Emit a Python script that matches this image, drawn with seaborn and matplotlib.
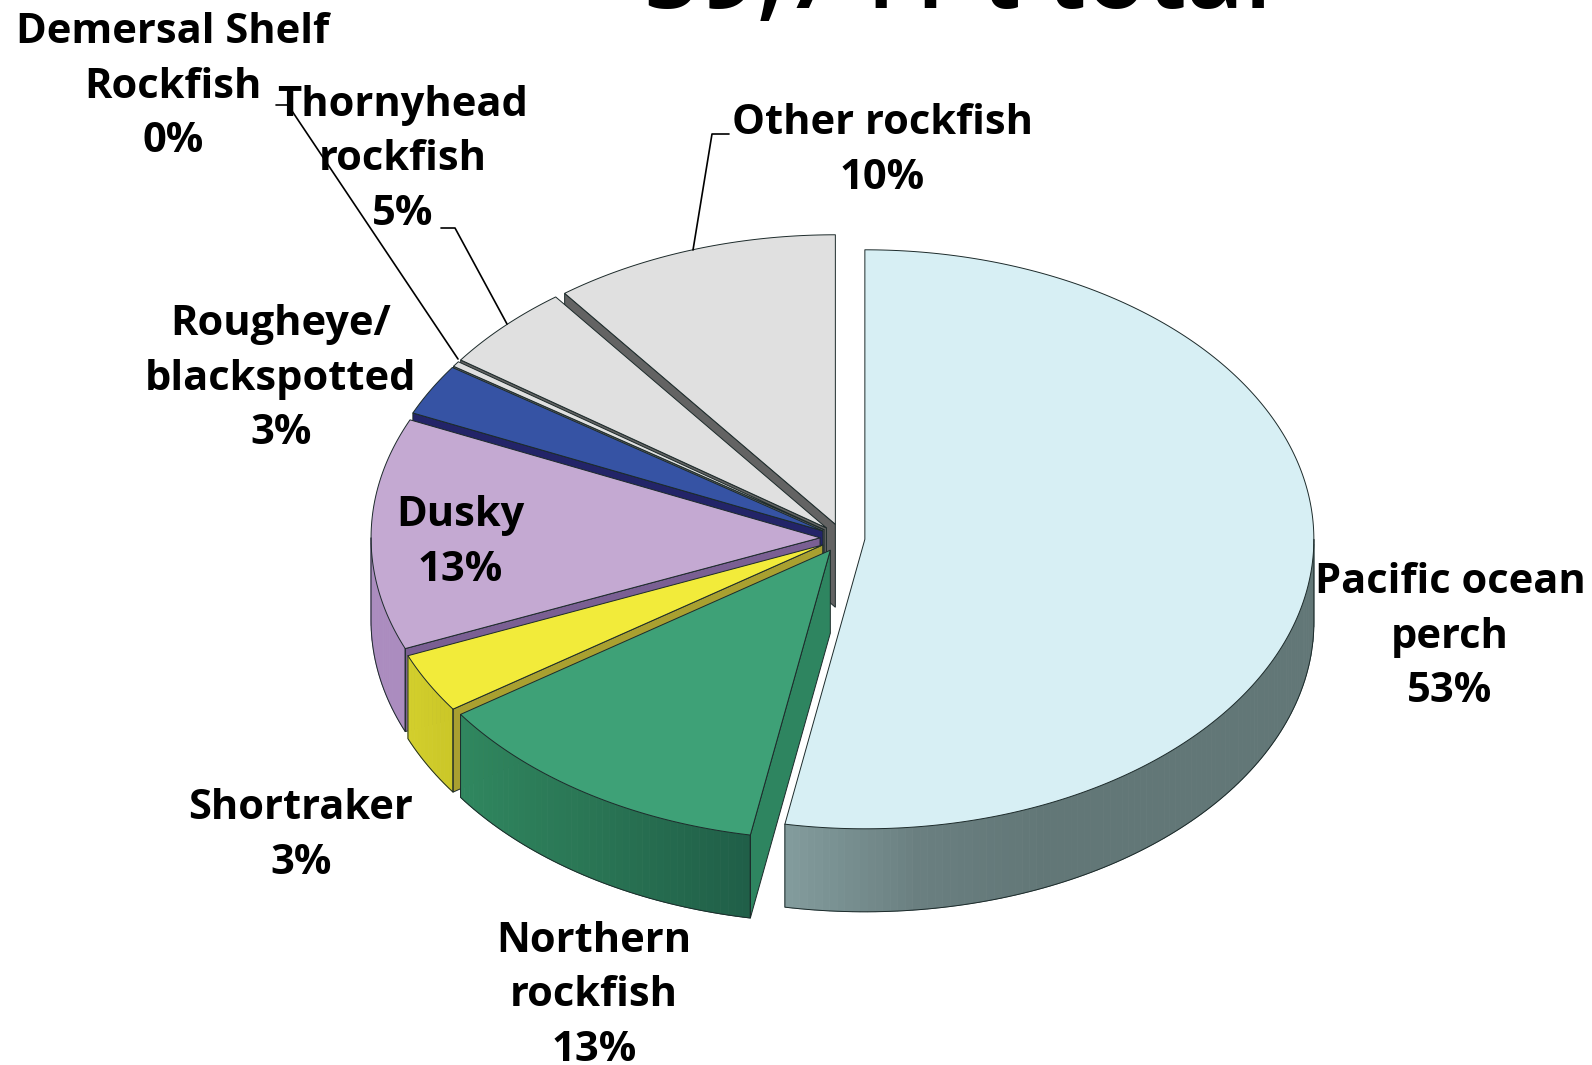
import numpy as np
import matplotlib
matplotlib.use("Agg")
import matplotlib.pyplot as plt
import seaborn as sns

# -----------------------------
# 1. Data (clockwise from 12 o'clock)
# -----------------------------
species = ["Pacific ocean\nperch", "Northern\nrockfish", "Shortraker", "Dusky",
           "Rougheye/\nblackspotted", "Demersal Shelf\nRockfish",
           "Thornyhead\nrockfish", "Other rockfish"]
shares = [52.85, 12.55, 3.35, 12.93, 2.87, 0.3, 4.85, 10.3]
title_text = "59,741 t total"

top_colors = ["#d7eff4", "#3ea177", "#f2eb3a", "#c4a9d2", "#3653a4", "#e0e0e0", "#e0e0e0", "#e0e0e0"]
cut_colors = ["#627777", "#2e8560", "#a9a030", "#7a5f93", "#232468", "#636363", "#636363", "#636363"]
rim_colors = [["#829b9c", "#6a7f80", "#627777", "#627777", "#627777", "#627777", "#627777"],
              ["#30875f", "#2a7655", "#205f48"],
              ["#d3cf2c", "#cbc728"],
              ["#ab8cbf", "#ab8cbf"],
              ["#232468", "#232468"],
              ["#b0b0b0", "#b0b0b0"],
              ["#b0b0b0", "#b0b0b0"],
              ["#b0b0b0", "#b0b0b0"]]

# centre of each label in picture pixels
label_x = [1450, 594, 301, 460, 281, 173, 403, 882]
label_y = [637, 996, 836, 543, 379, 87, 160, 151]

# -----------------------------
# 2. Pie geometry
# -----------------------------
cx, cy = 842.5, 538
rx, ry = 449, 289.5
depth = 83
explode = 0.05
edge = "#1c2a2a"
font = "Open Sans"

sns.set_theme(style="white")
plt.rcParams["font.family"] = [font, "DejaVu Sans"]

fig = plt.figure(figsize=(15.92, 10.65), dpi=100)
ax = fig.add_axes([0, 0, 1, 1])
ax.set_axis_off()

stops = np.cumsum([0] + shares) / np.sum(shares) * 2 * np.pi


def rim(x0, y0, t):
    return x0 + rx * np.sin(t), y0 - ry * np.cos(t)


def draw_wedge(i):
    t0, t1 = stops[i], stops[i + 1]
    mid = (t0 + t1) / 2
    x0 = cx + explode * rx * np.sin(mid)
    y0 = cy - explode * ry * np.cos(mid)

    # curved outer wall, only the part that faces the viewer
    a, b = max(t0, np.pi / 2), min(t1, 3 * np.pi / 2)
    if b > a:
        n = max(int((b - a) * 60), 2)
        ts = np.linspace(a, b, n + 1)
        # shade runs from the far left of the slice to its right end
        pal = sns.blend_palette(rim_colors[i], n)[::-1]
        for k in range(n):
            xs, ys = rim(x0, y0, ts[k:k + 2])
            ax.fill(np.r_[xs, xs[::-1]], np.r_[ys, ys[::-1] + depth],
                    color=pal[k], lw=0.6)
        xs, ys = rim(x0, y0, ts)
        ax.plot(np.r_[xs[0], xs, xs[-1]], np.r_[ys[0], ys + depth, ys[-1]],
                color=edge, lw=0.7)

    # flat cut wall at the start of the wedge
    if np.sin(t0) < 0:
        xe, ye = rim(x0, y0, t0)
        ax.fill([x0, xe, xe, x0], [y0, ye, ye + depth, y0 + depth],
                facecolor=cut_colors[i], edgecolor=edge, lw=0.7)

    # top face
    ts = np.linspace(t0, t1, max(int((t1 - t0) * 80), 3))
    xs, ys = rim(x0, y0, ts)
    ax.fill(np.r_[x0, xs], np.r_[y0, ys], facecolor=top_colors[i],
            edgecolor=edge, lw=0.7, joinstyle="round")


# back to front: the big slice first, then round the left side
for i in [0, 7, 6, 5, 4, 3, 2, 1]:
    draw_wedge(i)

# -----------------------------
# 3. Labels and leader lines
# -----------------------------
for name, v, x, y in zip(species, shares, label_x, label_y):
    ax.text(x, y, f"{name}\n{round(v)}%", ha="center", va="center", fontsize=30,
            fontweight="bold", color="black", linespacing=1.45, zorder=5)

ax.plot([729, 712, 693], [134, 134, 250], color="black", lw=1.2)
ax.plot([441, 455, 507], [228, 228, 324], color="black", lw=1.2)
ax.plot([276, 288, 458], [105, 105, 359], color="black", lw=1.2)

ax.text(958, 8, title_text, ha="center", va="baseline", fontsize=72,
        fontweight="semibold", color="black")

ax.set_xlim(0, 1592)
ax.set_ylim(1065, 0)

fig.savefig("out.png", dpi=100)
plt.close(fig)
